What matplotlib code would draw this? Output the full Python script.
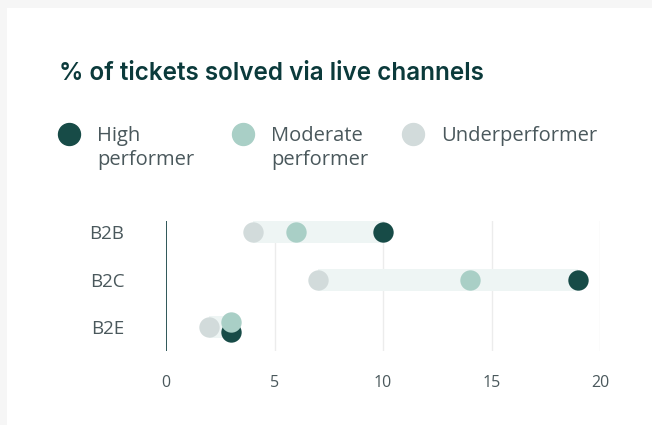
import matplotlib.pyplot as plt
from matplotlib.patches import Rectangle
from matplotlib.lines import Line2D

segments = ['B2B', 'B2C', 'B2E']
high = [10, 19, 3]
moderate = [6, 14, 3]
under = [4, 7, 2]
x_ticks = [0, 5, 10, 15, 20]

c_high = '#174b47'
c_mod = '#a9cfc6'
c_under = '#d2dbdb'
c_band = '#eef5f4'
c_title = '#0b3a3b'
c_text = '#4a585c'

W, H = 652, 425
fig = plt.figure(figsize=(W / 100, H / 100), dpi=100)
fig.patch.set_facecolor('#f6f6f6')
fig.patches.append(Rectangle((7 / W, 0), 1, 1 - 8 / H, transform=fig.transFigure,
                             facecolor='white', edgecolor='none', zorder=-1))

# title
fig.text(59 / W, 1 - 73 / H, '% of tickets solved via live channels', fontsize=17.5,
         fontweight='semibold', family='Inter', color=c_title, va='center', ha='left')

# legend
legend_items = [('High\nperformer', c_high, 69), ('Moderate\nperformer', c_mod, 243),
                ('Underperformer', c_under, 413)]
for label, col, px in legend_items:
    fig.add_artist(Line2D([px / W], [1 - 134 / H], marker='o', markersize=15.8,
                          color=col, linestyle='none', transform=fig.transFigure))
    fig.text((px + 28) / W, 1 - 126 / H, label, fontsize=14.5, color=c_text,
             va='top', ha='left', family='Open Sans', linespacing=1.3)

ax = fig.add_axes([166 / W, 74 / H, (600 - 166) / W, (351 - 221) / H])
ax.set_xlim(0, 20)
ax.set_ylim(2.5, -0.23)
ax.set_facecolor('none')

rows = list(range(len(segments)))
for i in rows:
    lo = min(high[i], moderate[i], under[i])
    hi = max(high[i], moderate[i], under[i])
    ax.barh(i, hi - lo, left=lo, height=0.46, color=c_band, zorder=1)

# nudge overlapping points apart
off_high = [0.11 if high[i] == moderate[i] else 0 for i in rows]
off_mod = [-0.11 if high[i] == moderate[i] else 0 for i in rows]

ax.scatter(under, rows, s=215, color=c_under, zorder=3, clip_on=False, linewidths=0)
ax.scatter(high, [r + o for r, o in zip(rows, off_high)], s=215, color=c_high,
           zorder=3, clip_on=False, linewidths=0)
ax.scatter(moderate, [r + o for r, o in zip(rows, off_mod)], s=215, color=c_mod,
           zorder=4, clip_on=False, linewidths=0)

for t in x_ticks[1:]:
    ax.axvline(t, color='#ececec', linewidth=1, zorder=0)
ax.axvline(0, color=c_title, linewidth=1.2, zorder=2)

ax.set_xticks(x_ticks)
ax.set_xticklabels([str(t) for t in x_ticks], fontsize=11.5, color=c_text, family='Open Sans')
ax.set_yticks(rows)
ax.set_yticklabels(segments, fontsize=13.5, color=c_text, family='Open Sans')
ax.tick_params(axis='x', length=0, pad=17)
ax.tick_params(axis='y', length=0, pad=30)
for s in ax.spines.values():
    s.set_visible(False)

fig.savefig('out.png', dpi=100)
